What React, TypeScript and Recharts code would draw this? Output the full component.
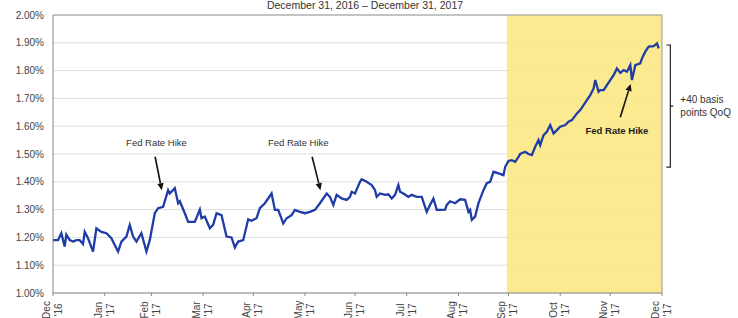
import {
  CartesianGrid,
  Line,
  LineChart,
  ReferenceArea,
  ReferenceDot,
  ReferenceLine,
  XAxis,
  YAxis,
} from 'recharts'

// days since Dec 31, 2016
const days = [
  0, 3, 5, 7, 8, 10, 12, 14, 16, 18, 19, 21, 24, 26, 29, 32, 35, 37, 39, 41, 44, 46, 48, 50, 53, 56, 58, 61, 63, 66,
  69, 70, 73, 75, 76, 79, 81, 85, 88, 89, 91, 94, 96, 98, 101, 104, 107, 109, 111, 114, 117, 119, 122, 124, 127, 131,
  133, 135, 138, 140, 143, 145, 148, 151, 154, 157, 160, 164, 166, 168, 170, 173, 176, 178, 179, 181, 184, 185, 188,
  191, 193, 194, 196, 199, 201, 203, 205, 207, 208, 210, 213, 215, 218, 221, 224, 226, 228, 230, 232, 235, 236, 238,
  241, 244, 247, 249, 250, 251, 253, 255, 258, 260, 262, 264, 267, 270, 271, 273, 275, 277, 279, 280, 283, 285, 287,
  289, 291, 292, 294, 296, 298, 300, 302, 304, 307, 309, 311, 314, 316, 318, 320, 322, 324, 325, 327, 328, 330, 332,
  334, 336, 338, 340, 342, 344, 346, 347, 349, 352, 353, 355, 357, 360, 362, 363,
]

// 2-year yield, %
const yields = [
  1.19, 1.19, 1.215, 1.167, 1.21, 1.19, 1.185, 1.19, 1.19, 1.176, 1.22, 1.197, 1.149, 1.233, 1.22, 1.215, 1.197, 1.173,
  1.149, 1.185, 1.203, 1.245, 1.203, 1.185, 1.215, 1.149, 1.19, 1.287, 1.305, 1.31, 1.37, 1.358, 1.377, 1.323, 1.33,
  1.287, 1.256, 1.256, 1.3, 1.269, 1.275, 1.233, 1.245, 1.287, 1.28, 1.203, 1.2, 1.164, 1.185, 1.19, 1.265, 1.26,
  1.269, 1.305, 1.323, 1.358, 1.299, 1.299, 1.25, 1.269, 1.28, 1.299, 1.292, 1.287, 1.292, 1.299, 1.323, 1.358, 1.346,
  1.317, 1.353, 1.34, 1.335, 1.346, 1.364, 1.358, 1.4, 1.409, 1.4, 1.388, 1.37, 1.346, 1.358, 1.353, 1.355, 1.34,
  1.353, 1.388, 1.364, 1.358, 1.346, 1.353, 1.346, 1.346, 1.292, 1.317, 1.34, 1.299, 1.299, 1.3, 1.317, 1.33, 1.323,
  1.337, 1.335, 1.292, 1.299, 1.263, 1.275, 1.323, 1.37, 1.395, 1.4, 1.436, 1.43, 1.424, 1.454, 1.475, 1.478, 1.472,
  1.49, 1.5, 1.508, 1.5, 1.496, 1.526, 1.55, 1.532, 1.568, 1.58, 1.604, 1.574, 1.586, 1.598, 1.604, 1.616, 1.622,
  1.646, 1.658, 1.676, 1.694, 1.712, 1.736, 1.766, 1.724, 1.73, 1.73, 1.748, 1.766, 1.784, 1.808, 1.792, 1.802, 1.796,
  1.82, 1.766, 1.82, 1.826, 1.844, 1.868, 1.886, 1.888, 1.898, 1.88,
]

// month-end ticks
const xTicks = [0, 31, 59, 90, 120, 151, 181, 212, 243, 273, 304, 334, 365]
const xMonths = ['Dec', 'Jan', 'Feb', 'Mar', 'Apr', 'May', 'Jun', 'Jul', 'Aug', 'Sep', 'Oct', 'Nov', 'Dec']
const xYears = ["'16", "'17", "'17", "'17", "'17", "'17", "'17", "'17", "'17", "'17", "'17", "'17", "'17"]
const yTicks = [1.0, 1.1, 1.2, 1.3, 1.4, 1.5, 1.6, 1.7, 1.8, 1.9, 2.0]

const quarterStart = 272
const quarterEnd = 365

// annotations: text at [day, value], arrow from -> to
const hikeLabels = [
  { x: 62, y: 1.54, bold: false },
  { x: 147, y: 1.54, bold: false },
  { x: 338, y: 1.586, bold: true },
]
const hikeArrows = [
  { from: [61.2, 1.49], to: [65.2, 1.37] },
  { from: [155.3, 1.49], to: [160.3, 1.37] },
  { from: [340, 1.632], to: [346.2, 1.752] },
]
const bracketDay = 370
const bracketTop = 1.892
const bracketBottom = 1.453
const bracketText = ['+40 basis', 'points QoQ']

const FONT = '"Liberation Sans", Arial, sans-serif'

const data = days.map((d, i) => ({ day: d, y: yields[i] }))

function XTick(props: any) {
  const { x, y, payload } = props
  const i = xTicks.indexOf(payload.value)
  return (
    <g transform={`translate(${x},${y + 12}) rotate(-90)`}>
      <text textAnchor="middle" fontSize={10} fill="#444" fontFamily={FONT}>
        <tspan x={0} y={-3}>
          {xMonths[i]}
        </tspan>
        <tspan x={0} y={9}>
          {xYears[i]}
        </tspan>
      </text>
    </g>
  )
}

function Arrow(props: any) {
  const { x1, y1, x2, y2 } = props
  const a = Math.atan2(y2 - y1, x2 - x1)
  const len = 7
  const w = 3.2
  const bx = x2 - len * Math.cos(a)
  const by = y2 - len * Math.sin(a)
  const px = -Math.sin(a) * w
  const py = Math.cos(a) * w
  return (
    <g>
      <line x1={x1} y1={y1} x2={bx} y2={by} stroke="#111" strokeWidth={1.6} />
      <polygon points={`${x2},${y2} ${bx + px},${by + py} ${bx - px},${by - py}`} fill="#111" />
    </g>
  )
}

function Bracket(props: any) {
  const { x1, y1, y2 } = props
  const mid = (y1 + y2) / 2
  return (
    <path
      d={`M${x1 - 4},${y1} H${x1} V${y2} H${x1 - 4} M${x1},${mid} H${x1 + 3}`}
      stroke="#222"
      strokeWidth={1.2}
      fill="none"
    />
  )
}

export default function App() {
  return (
    <div style={{ position: 'absolute', left: 0, top: 0, width: 738, height: 318, background: '#fff' }}>
      <div
        style={{
          position: 'absolute',
          left: 0,
          top: 0,
          width: 730,
          textAlign: 'center',
          fontFamily: FONT,
          fontSize: 10.5,
          lineHeight: '12px',
          color: '#333',
          marginTop: -1,
        }}
      >
        December 31, 2016 – December 31, 2017
      </div>
      <LineChart width={738} height={318} data={data} margin={{ top: 15, right: 76, bottom: 0, left: 0 }}>
        <ReferenceArea x1={quarterStart} x2={quarterEnd} fill="#fbe886" fillOpacity={0.92} stroke="none" />
        <CartesianGrid vertical={false} stroke="#dedede" />
        <XAxis
          dataKey="day"
          type="number"
          domain={[0, 365]}
          ticks={xTicks}
          interval={0}
          height={25}
          tick={<XTick />}
          tickSize={3}
          stroke="#888"
        />
        <YAxis
          type="number"
          domain={[1, 2]}
          ticks={yTicks}
          width={53}
          tickFormatter={(v: number) => `${v.toFixed(2)}%`}
          tick={{ fontSize: 10, fill: '#444', fontFamily: FONT }}
          tickLine={false}
          tickSize={4}
          tickMargin={5}
          stroke="#888"
        />
        <ReferenceLine y={2} stroke="#999" />
        <ReferenceLine x={365} stroke="#999" />
        <Line
          type="linear"
          dataKey="y"
          stroke="#1f3ca8"
          strokeWidth={2.3}
          dot={false}
          isAnimationActive={false}
        />
        {hikeArrows.map((a, i) => (
          <ReferenceLine
            key={`arrow-${i}`}
            segment={[
              { x: a.from[0], y: a.from[1] },
              { x: a.to[0], y: a.to[1] },
            ]}
            ifOverflow="visible"
            shape={Arrow}
          />
        ))}
        {hikeLabels.map((l, i) => (
          <ReferenceDot
            key={`label-${i}`}
            x={l.x}
            y={l.y}
            ifOverflow="visible"
            shape={(p: any) => (
              <text
                x={p.cx}
                y={p.cy + 3.5}
                textAnchor="middle"
                fontSize={9.5}
                fontWeight={l.bold ? 'bold' : 'normal'}
                fill={l.bold ? '#222' : '#333'}
                fontFamily={FONT}
              >
                Fed Rate Hike
              </text>
            )}
          />
        ))}
        <ReferenceLine
          segment={[
            { x: bracketDay, y: bracketTop },
            { x: bracketDay, y: bracketBottom },
          ]}
          ifOverflow="visible"
          shape={Bracket}
        />
        <ReferenceDot
          x={bracketDay + 6}
          y={(bracketTop + bracketBottom) / 2}
          ifOverflow="visible"
          shape={(p: any) => (
            <text x={p.cx} y={p.cy} fontSize={10} fill="#333" fontFamily={FONT}>
              <tspan x={p.cx} y={p.cy - 3}>
                {bracketText[0]}
              </tspan>
              <tspan x={p.cx} y={p.cy + 10}>
                {bracketText[1]}
              </tspan>
            </text>
          )}
        />
      </LineChart>
    </div>
  )
}
